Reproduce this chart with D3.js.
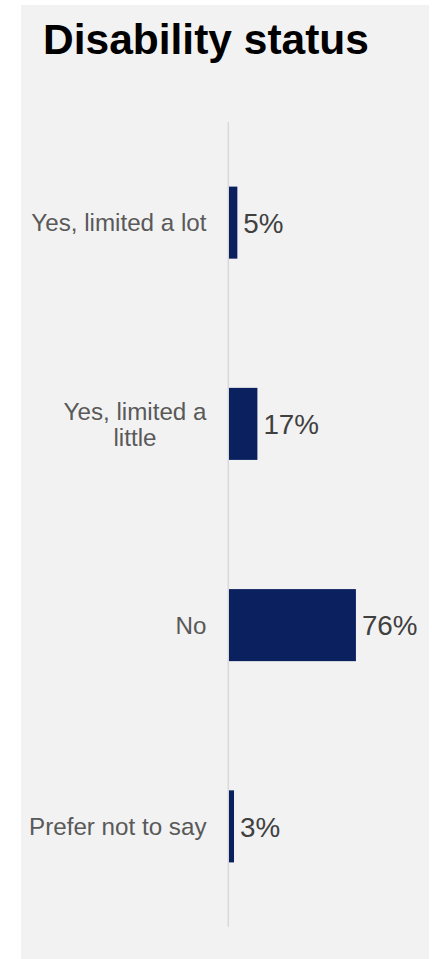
<!DOCTYPE html>
<html>
<head>
<meta charset="utf-8">
<script src="https://cdn.jsdelivr.net/npm/d3@7"></script>
<style>
  html, body { margin: 0; padding: 0; background: #ffffff; }
  svg { display: block; font-family: "Liberation Sans", Arial, sans-serif; }
</style>
</head>
<body>
<script>
// Survey responses: disability status
const categories = ["Yes, limited a lot", "Yes, limited a little", "No", "Prefer not to say"];
const values = [5, 17, 76, 3];
const valueLabels = ["5%", "17%", "76%", "3%"];
const title = "Disability status";

const W = 432, H = 959;
const svg = d3.select("body").append("svg").attr("width", W).attr("height", H);

// light grey card behind the chart
svg.append("rect")
  .attr("x", 21).attr("y", 5).attr("width", 408).attr("height", 954)
  .attr("fill", "#f2f2f2");

svg.append("text")
  .attr("x", 43).attr("y", 54)
  .attr("font-size", 42.5).attr("font-weight", "bold").attr("fill", "#000")
  .text(title);

const axisX = 228.3;
const x = d3.scaleLinear().domain([0, 100]).range([229, 396]);
const y = d3.scaleBand().domain(categories).range([122, 927])
  .paddingInner(0.642).paddingOuter(0.321);

// vertical category axis line
svg.append("line")
  .attr("x1", axisX).attr("x2", axisX)
  .attr("y1", y.range()[0]).attr("y2", y.range()[1])
  .attr("stroke", "#d9d9d9").attr("stroke-width", 1.5);

const rows = categories.map((c, i) => ({ c, v: values[i], lab: valueLabels[i] }));

svg.append("g").selectAll("rect").data(rows).join("rect")
  .attr("x", x(0))
  .attr("y", d => y(d.c))
  .attr("width", d => x(d.v) - x(0))
  .attr("height", y.bandwidth())
  .attr("fill", "#0b215f");

const vfs = 27.8;
svg.append("g").selectAll("text").data(rows).join("text")
  .attr("x", d => x(d.v) + 6)
  .attr("y", d => y(d.c) + y.bandwidth() / 2 + vfs * 0.37)
  .attr("font-size", vfs).attr("fill", "#404040")
  .text(d => d.lab);

// category labels, wrapped; lines centred on each other, block right-aligned
const cfs = 24.2, lineH = 26, maxW = 182, rightX = 206.5;
const labG = svg.append("g").attr("font-size", cfs).attr("fill", "#595959");
rows.forEach(d => {
  const t = labG.append("text").attr("text-anchor", "middle");
  const words = d.c.split(" ");
  const lines = [];
  let cur = [];
  const probe = labG.append("text");
  words.forEach(w => {
    const trial = cur.concat(w).join(" ");
    probe.text(trial);
    if (cur.length && probe.node().getComputedTextLength() > maxW) {
      lines.push(cur.join(" "));
      cur = [w];
    } else cur.push(w);
  });
  lines.push(cur.join(" "));
  let widest = 0;
  lines.forEach(l => { probe.text(l); widest = Math.max(widest, probe.node().getComputedTextLength()); });
  probe.remove();
  const cx = rightX - widest / 2;
  const cy = y(d.c) + y.bandwidth() / 2;
  const first = cy - (lines.length - 1) * lineH / 2 + cfs * 0.36;
  lines.forEach((l, i) => {
    t.append("tspan").attr("x", cx).attr("y", first + i * lineH).text(l);
  });
});
</script>
</body>
</html>
